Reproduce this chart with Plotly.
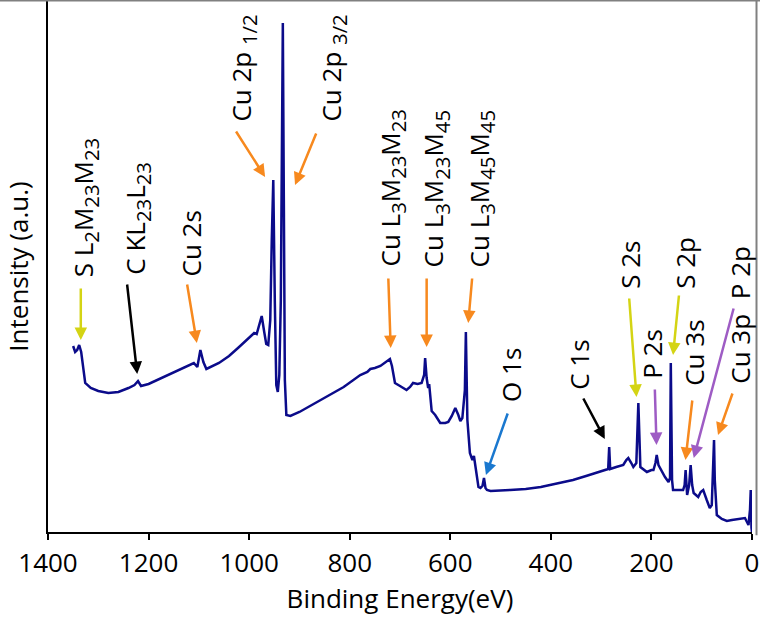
import plotly.graph_objects as go

# ---------------- data ----------------
binding_energy = [1350, 1346, 1342, 1338, 1334, 1330, 1326, 1315, 1300, 1280, 1260, 1240, 1228, 1221, 1215,
                  1200, 1170, 1140, 1120, 1110, 1103, 1097, 1091, 1085, 1060, 1040, 1020, 1000, 990, 985,
                  980, 975, 970, 966, 962, 958, 955, 952, 949, 946, 943, 940, 937, 935, 933, 931, 929,
                  926, 918, 900, 879, 845, 812, 779, 765, 759, 750, 739, 728, 720, 716, 710, 700, 687,
                  680, 674, 665, 657, 652, 650, 647, 644, 642, 637, 630, 620, 610, 604, 597, 590, 584,
                  580, 576, 573, 571, 569, 566, 561, 556, 553, 551, 547, 544, 540, 536, 533, 530, 527,
                  520, 481, 450, 420, 400, 382, 356, 330, 302, 289, 286, 284, 282, 270, 256, 250, 246,
                  240, 236, 230, 226, 222, 215, 209, 200, 196, 192, 189.5, 186, 183, 178, 173, 166, 163,
                  161.5, 159, 157, 145, 137, 134, 132, 129, 125, 122, 119, 116, 112, 107, 102, 97, 90,
                  84, 80, 77, 75.5, 74, 72, 70, 60, 50, 40, 24, 14, 10, 7, 4, 2.5, 1, 0]
intensity = [186, 180, 182, 187, 180, 164, 149, 144, 141, 139, 140, 144, 147, 151, 146,
             148, 155, 162, 167, 169, 165, 182, 170, 163, 169, 176, 185, 195, 199, 198,
             206, 216, 200, 188, 187, 212, 292, 352, 232, 147, 140, 157, 232, 412, 509, 332, 152,
             117, 116, 120, 126, 135, 145, 157, 160, 163, 164, 166, 170, 173, 166, 149, 146, 142,
             145, 149, 148, 149, 157, 174, 154, 144, 148, 121, 117, 109, 109, 110, 116, 124, 117,
             111, 114, 127, 142, 200, 112, 79, 72, 76, 70, 55, 45, 44, 46, 54, 44, 42,
             41, 42, 43, 45, 47, 49, 52, 56, 60, 62, 63, 85, 63, 65, 67, 72, 74,
             69, 65, 69, 129, 65, 62, 60, 62, 62, 69, 77, 67, 64, 60, 55, 50, 54,
             169, 52, 42, 42, 42, 47, 62, 37, 47, 67, 47, 39, 37, 35, 40, 42, 32,
             24, 27, 62, 92, 52, 27, 17, 13, 11, 12, 13, 14, 10, 7, 22, 42, 4, 0]

x_ticks = [1400, 1200, 1000, 800, 600, 400, 200, 0]


def sub(s):
    return "<span style='font-size:29px'><sub>" + s + "</sub></span>"


# peak labels
label_texts = ["S L" + sub("2") + "M" + sub("23") + "M" + sub("23"),
               "C KL" + sub("23") + "L" + sub("23"),
               "Cu 2s",
               "Cu 2p " + sub("1/2"),
               "Cu 2p " + sub("3/2"),
               "Cu L" + sub("3") + "M" + sub("23") + "M" + sub("23"),
               "Cu L" + sub("3") + "M" + sub("23") + "M" + sub("45"),
               "Cu L" + sub("3") + "M" + sub("45") + "M" + sub("45"),
               "O 1s", "C 1s", "S 2s", "P 2s", "S 2p", "Cu 3s", "P 2p", "Cu 3p"]
label_x = [1326.8, 1224.6, 1114.7, 1014.0, 835.1, 717.9, 630.5, 539.1, 479.5, 344.3, 243.0, 199.3,
           133.7, 115.8, 24.4, 24.4]
label_y = [253, 255, 254, 408, 408, 263, 263, 263, 128, 140, 241, 151, 241, 144, 231, 146]
tail_x = [1334.8, 1243.0, 1123.8, 1027.9, 865.5, 723.3, 647.0, 556.3, 484.8, 337.0, 244.4, 193.3,
          145.0, 118.4, 35.8, 37.8]
tail_y = [245, 249, 249, 402, 400, 255, 255, 255, 120, 135, 235, 144, 238, 133, 225, 140]
head_x = [1334.8, 1222.6, 1104.0, 968.3, 908.7, 718.5, 647.0, 564.3, 529.1, 292.7, 229.7, 189.9,
          157.0, 132.3, 115.8, 67.6]
head_y = [192, 158, 189, 355, 347, 184, 185, 209, 57, 93, 135, 87, 177, 72, 74, 97]

YEL = "#d4d414"
ORA = "#f7891e"
BLK = "#000000"
BLU = "#1a78cf"
PUR = "#9e5cc4"
arrow_colors = [YEL, BLK, ORA, ORA, ORA, ORA, ORA, ORA, BLU, BLK, YEL, PUR, YEL, ORA, PUR, ORA]

FONT = "Open Sans"

fig = go.Figure()
fig.add_trace(go.Scatter(x=binding_energy, y=intensity, mode="lines",
                         line=dict(color="#0b0b8a", width=2.5), showlegend=False,
                         hoverinfo="skip"))

annotations = []
for i, t in enumerate(label_texts):
    annotations.append(dict(x=head_x[i], y=head_y[i], xref="x", yref="y",
                            ax=tail_x[i], ay=tail_y[i], axref="x", ayref="y",
                            text="", showarrow=True, arrowhead=2, arrowsize=1.0,
                            arrowwidth=2.5, arrowcolor=arrow_colors[i], standoff=0, startstandoff=0))
    annotations.append(dict(x=label_x[i], y=label_y[i], xref="x", yref="y", text=t,
                            showarrow=False, textangle=-90, xanchor="center", yanchor="bottom",
                            font=dict(family=FONT, size=26, color="black")))

fig.update_layout(
    width=760, height=619,
    margin=dict(l=48, r=8, t=1, b=87),
    paper_bgcolor="white", plot_bgcolor="white",
    font=dict(family=FONT, color="black"),
    annotations=annotations,
    xaxis=dict(range=[1400, 0], tickvals=x_ticks, ticks="outside", ticklen=6, tickwidth=1.5,
               tickcolor="black", showline=True, linecolor="black", linewidth=1.5,
               showgrid=False, zeroline=False, tickfont=dict(size=26, family=FONT),
               ticklabelstandoff=1, automargin=False,
               title=dict(text="Binding Energy(eV)", font=dict(size=26, family=FONT), standoff=10)),
    yaxis=dict(range=[0, 531], showticklabels=False, ticks="", showline=True, linecolor="black",
               linewidth=1.5, showgrid=False, zeroline=False, automargin=False,
               title=dict(text="Intensity (a.u.)", font=dict(size=26, family=FONT), standoff=22)),
    shapes=[
        dict(type="line", xref="paper", yref="paper", x0=-0.07, x1=1.012, y0=1.0009, y1=1.0009,
             line=dict(color="#808080", width=2)),
        dict(type="line", xref="paper", yref="paper", x0=1.0064, x1=1.0064, y0=1.0009, y1=-0.006,
             line=dict(color="#808080", width=2)),
    ],
)

fig.write_html("out.html")
